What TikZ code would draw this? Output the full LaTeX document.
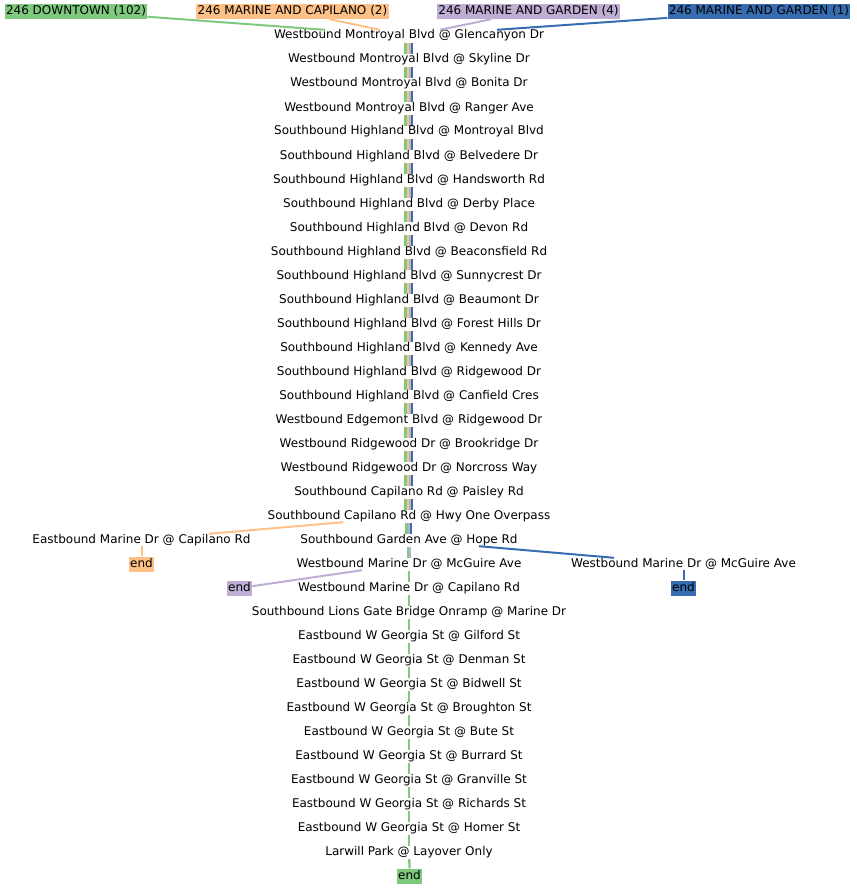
\documentclass[tikz,border=0pt]{standalone}
\usepackage{fontspec}
\setmainfont{DejaVu Sans}
\usetikzlibrary{backgrounds}
\definecolor{cg}{HTML}{7FC97F}
\definecolor{co}{HTML}{FDC086}
\definecolor{cp}{HTML}{BEAED4}
\definecolor{cb}{HTML}{386CB0}
\begin{document}
\begin{tikzpicture}[x=1pt,y=1pt,
  stop/.style={inner sep=0pt, text height=9pt, text depth=3pt, font=\fontsize{12}{14}\selectfont},
  tag/.style={stop, inner xsep=1.3pt, inner ysep=1.5pt},
  conn/.style={line width=2pt},
  bar/.style={line width=2.3pt, shorten <=1pt, shorten >=0pt}]
\useasboundingbox (0,0) rectangle (856,-888);
% stops
\foreach \t [count=\i from 0] in {
 Westbound Montroyal Blvd @ Glencanyon Dr,
 Westbound Montroyal Blvd @ Skyline Dr,
 Westbound Montroyal Blvd @ Bonita Dr,
 Westbound Montroyal Blvd @ Ranger Ave,
 Southbound Highland Blvd @ Montroyal Blvd,
 Southbound Highland Blvd @ Belvedere Dr,
 Southbound Highland Blvd @ Handsworth Rd,
 Southbound Highland Blvd @ Derby Place,
 Southbound Highland Blvd @ Devon Rd,
 Southbound Highland Blvd @ Beaconsfield Rd,
 Southbound Highland Blvd @ Sunnycrest Dr,
 Southbound Highland Blvd @ Beaumont Dr,
 Southbound Highland Blvd @ Forest Hills Dr,
 Southbound Highland Blvd @ Kennedy Ave,
 Southbound Highland Blvd @ Ridgewood Dr,
 Southbound Highland Blvd @ Canfield Cres,
 Westbound Edgemont Blvd @ Ridgewood Dr,
 Westbound Ridgewood Dr @ Brookridge Dr,
 Westbound Ridgewood Dr @ Norcross Way,
 Southbound Capilano Rd @ Paisley Rd,
 Southbound Capilano Rd @ Hwy One Overpass,
 Southbound Garden Ave @ Hope Rd,
 Westbound Marine Dr @ McGuire Ave,
 Westbound Marine Dr @ Capilano Rd,
 Southbound Lions Gate Bridge Onramp @ Marine Dr,
 Eastbound W Georgia St @ Gilford St,
 Eastbound W Georgia St @ Denman St,
 Eastbound W Georgia St @ Bidwell St,
 Eastbound W Georgia St @ Broughton St,
 Eastbound W Georgia St @ Bute St,
 Eastbound W Georgia St @ Burrard St,
 Eastbound W Georgia St @ Granville St,
 Eastbound W Georgia St @ Richards St,
 Eastbound W Georgia St @ Homer St,
 Larwill Park @ Layover Only}
 { \node[stop] (s\i) at (409,{-36-24*\i}) {\t}; }
% route labels
\node[tag, fill=cg] (ldt) at (76,-11.5) {246 DOWNTOWN (102)};
\node[tag, fill=co] (lcap) at (292.5,-11.5) {246 MARINE AND CAPILANO (2)};
\node[tag, fill=cp] (lg4) at (528.5,-11.5) {246 MARINE AND GARDEN (4)};
\node[tag, fill=cb] (lg1) at (759,-11.5) {246 MARINE AND GARDEN (1)};
% branch stops and ends
\node[stop] (cap) at (141.5,-540) {Eastbound Marine Dr @ Capilano Rd};
\node[stop] (mcg) at (683.5,-564) {Westbound Marine Dr @ McGuire Ave};
\node[tag, fill=co] (eo) at (141.5,-564) {end};
\node[tag, fill=cp] (ep) at (239.5,-588) {end};
\node[tag, fill=cb] (eb) at (683.5,-588) {end};
\node[tag, fill=cg] (eg) at (409.5,-876) {end};
\begin{pgfonlayer}{background}
% trunk segments with four routes
\foreach \i [evaluate=\i as \j using int(\i+1)] in {0,...,19} {
  \draw[bar, cg] ([xshift=-3.65pt]s\i.south) -- ([xshift=-3.65pt]s\j.north);
  \draw[bar, co] ([xshift=-1.35pt]s\i.south) -- ([xshift=-1.35pt]s\j.north);
  \draw[bar, cp] ([xshift=0.95pt]s\i.south) -- ([xshift=0.95pt]s\j.north);
  \draw[bar, cb] ([xshift=3.25pt]s\i.south) -- ([xshift=3.25pt]s\j.north);
}
\draw[bar, cg] ([xshift=-2.5pt]s20.south) -- ([xshift=-2.5pt]s21.north);
\draw[bar, cp] ([xshift=-0.2pt]s20.south) -- ([xshift=-0.2pt]s21.north);
\draw[bar, cb] ([xshift=2.1pt]s20.south) -- ([xshift=2.1pt]s21.north);
\draw[bar, cg] ([xshift=-1.35pt]s21.south) -- ([xshift=-1.35pt]s22.north);
\draw[bar, cp] ([xshift=0.95pt]s21.south) -- ([xshift=0.95pt]s22.north);
\foreach \i [evaluate=\i as \j using int(\i+1)] in {22,...,33} {
  \draw[bar, cg] ([xshift=0.3pt]s\i.south) -- ([xshift=0.3pt]s\j.north);
}
\draw[bar, cg] ([xshift=0.3pt]s34.south) -- (eg.north);
\end{pgfonlayer}
% connectors from route labels
\draw[conn, cg] (ldt) -- ([xshift=-84pt]s0.north);
\draw[conn, co] (lcap) -- ([xshift=-29pt]s0.north);
\draw[conn, cp] (lg4) -- ([xshift=31pt]s0.north);
\draw[conn, cb] (lg1) -- ([xshift=88pt]s0.north);
% branch connectors
\draw[conn, co] ([xshift=-66pt]s20.south) -- ([xshift=67.5pt]cap.north);
\draw[conn, co] (cap.south) -- (eo.north);
\draw[conn, cp] ([xshift=-47pt]s22.south) -- (ep);
\draw[conn, cb] ([xshift=70pt]s21.south) -- ([xshift=-69.5pt]mcg.north);
\draw[conn, cb] (mcg.south) -- (eb.north);
\end{tikzpicture}
\end{document}
